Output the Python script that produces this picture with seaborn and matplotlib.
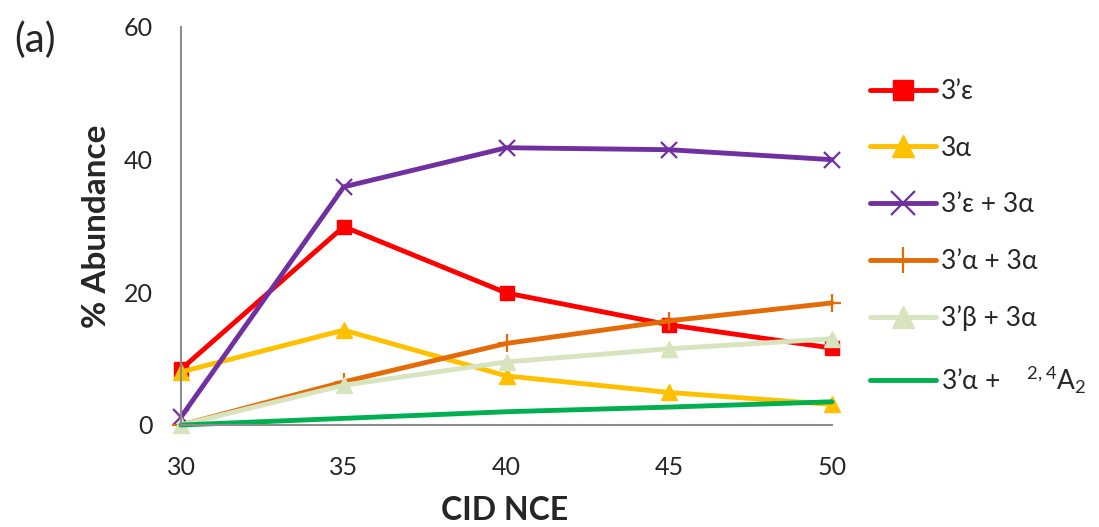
import matplotlib
matplotlib.use("Agg")
import matplotlib.pyplot as plt
import seaborn as sns
import pandas as pd

nce = [30, 35, 40, 45, 50]
s_3e = [8.4, 29.9, 19.9, 15.1, 11.6]
s_3a = [8.0, 14.3, 7.4, 4.9, 3.1]
s_3e3a = [1.2, 35.9, 41.8, 41.5, 40.0]
s_3a3a = [0.0, 6.5, 12.3, 15.7, 18.4]
s_3b3a = [0.0, 6.0, 9.5, 11.5, 13.0]
s_3a24 = [0.0, 1.0, 2.0, 2.7, 3.5]

labels = ["3’ε", "3α", "3’ε + 3α", "3’α + 3α", "3’β + 3α",
          r"3’α +    $^{\mathregular{2,4}}\mathregular{A_2}$"]
series = [s_3e, s_3a, s_3e3a, s_3a3a, s_3b3a, s_3a24]
colors = ["#FF0000", "#FFC000", "#7030A0", "#E36C09", "#D7E4BD", "#00B050"]
markers = ["s", "^", "x", "+", "^", None]
msizes = [10, 11, 12, 13, 11, 0]
x_ticks = [30, 35, 40, 45, 50]
y_ticks = [0, 20, 40, 60]

sns.set_style("white")
plt.rcParams["font.family"] = ["Lato", "DejaVu Sans"]
plt.rcParams["mathtext.fontset"] = "custom"
plt.rcParams["mathtext.rm"] = "Lato"

fig = plt.figure(figsize=(10.99, 5.27), dpi=100)
ax = fig.add_axes([181/1099, 1-425/527, (832-181)/1099, (425-27)/527])

rows = []
for lab, vals in zip(labels, series):
    for x, y in zip(nce, vals):
        rows.append({"nce": x, "val": y, "series": lab})
df = pd.DataFrame(rows)

handles = []
for lab, col, mk, ms in zip(labels, colors, markers, msizes):
    sub = df[df["series"] == lab]
    sns.lineplot(data=sub, x="nce", y="val", ax=ax, color=col, linewidth=3.5,
                 marker=mk if mk else None, markersize=ms,
                 markeredgecolor=col, markerfacecolor=col,
                 markeredgewidth=1.6 if mk in ("x", "+") else 1,
                 clip_on=False, legend=False, label=lab)
    handles.append(ax.lines[-1])

ax.set_xlim(30, 50)
ax.set_ylim(0, 60)
ax.set_xticks(x_ticks)
ax.set_yticks(y_ticks)
ax.tick_params(axis="y", length=0, pad=20, labelsize=18)
ax.tick_params(axis="x", length=0, pad=22, labelsize=18)
for s in ["top", "right"]:
    ax.spines[s].set_visible(False)
for s in ["left", "bottom"]:
    ax.spines[s].set_color("#8c8c8c")
    ax.spines[s].set_linewidth(1.5)
ax.set_xlabel("CID NCE", fontsize=23, fontweight="bold")
ax.set_ylabel("% Abundance", fontsize=24, fontweight="bold")
ax.xaxis.set_label_coords((505-181)/651, (425-510)/398)
ax.yaxis.set_label_coords((97-181)/651, 0.5)
ax.xaxis.label.set_va("center")
ax.yaxis.label.set_va("center")

fig.text(14/1099, 1-40/527, "(a)", fontsize=29, va="center", ha="left")

leg = fig.legend(handles=handles, labels=labels, loc="upper left",
                 bbox_to_anchor=(870/1099, 1-79/527), frameon=False,
                 fontsize=19, handlelength=2.5, handletextpad=0.2,
                 labelspacing=1.2, borderpad=0, borderaxespad=0,
                 markerscale=1.4)

fig.savefig("out.png", dpi=100)
